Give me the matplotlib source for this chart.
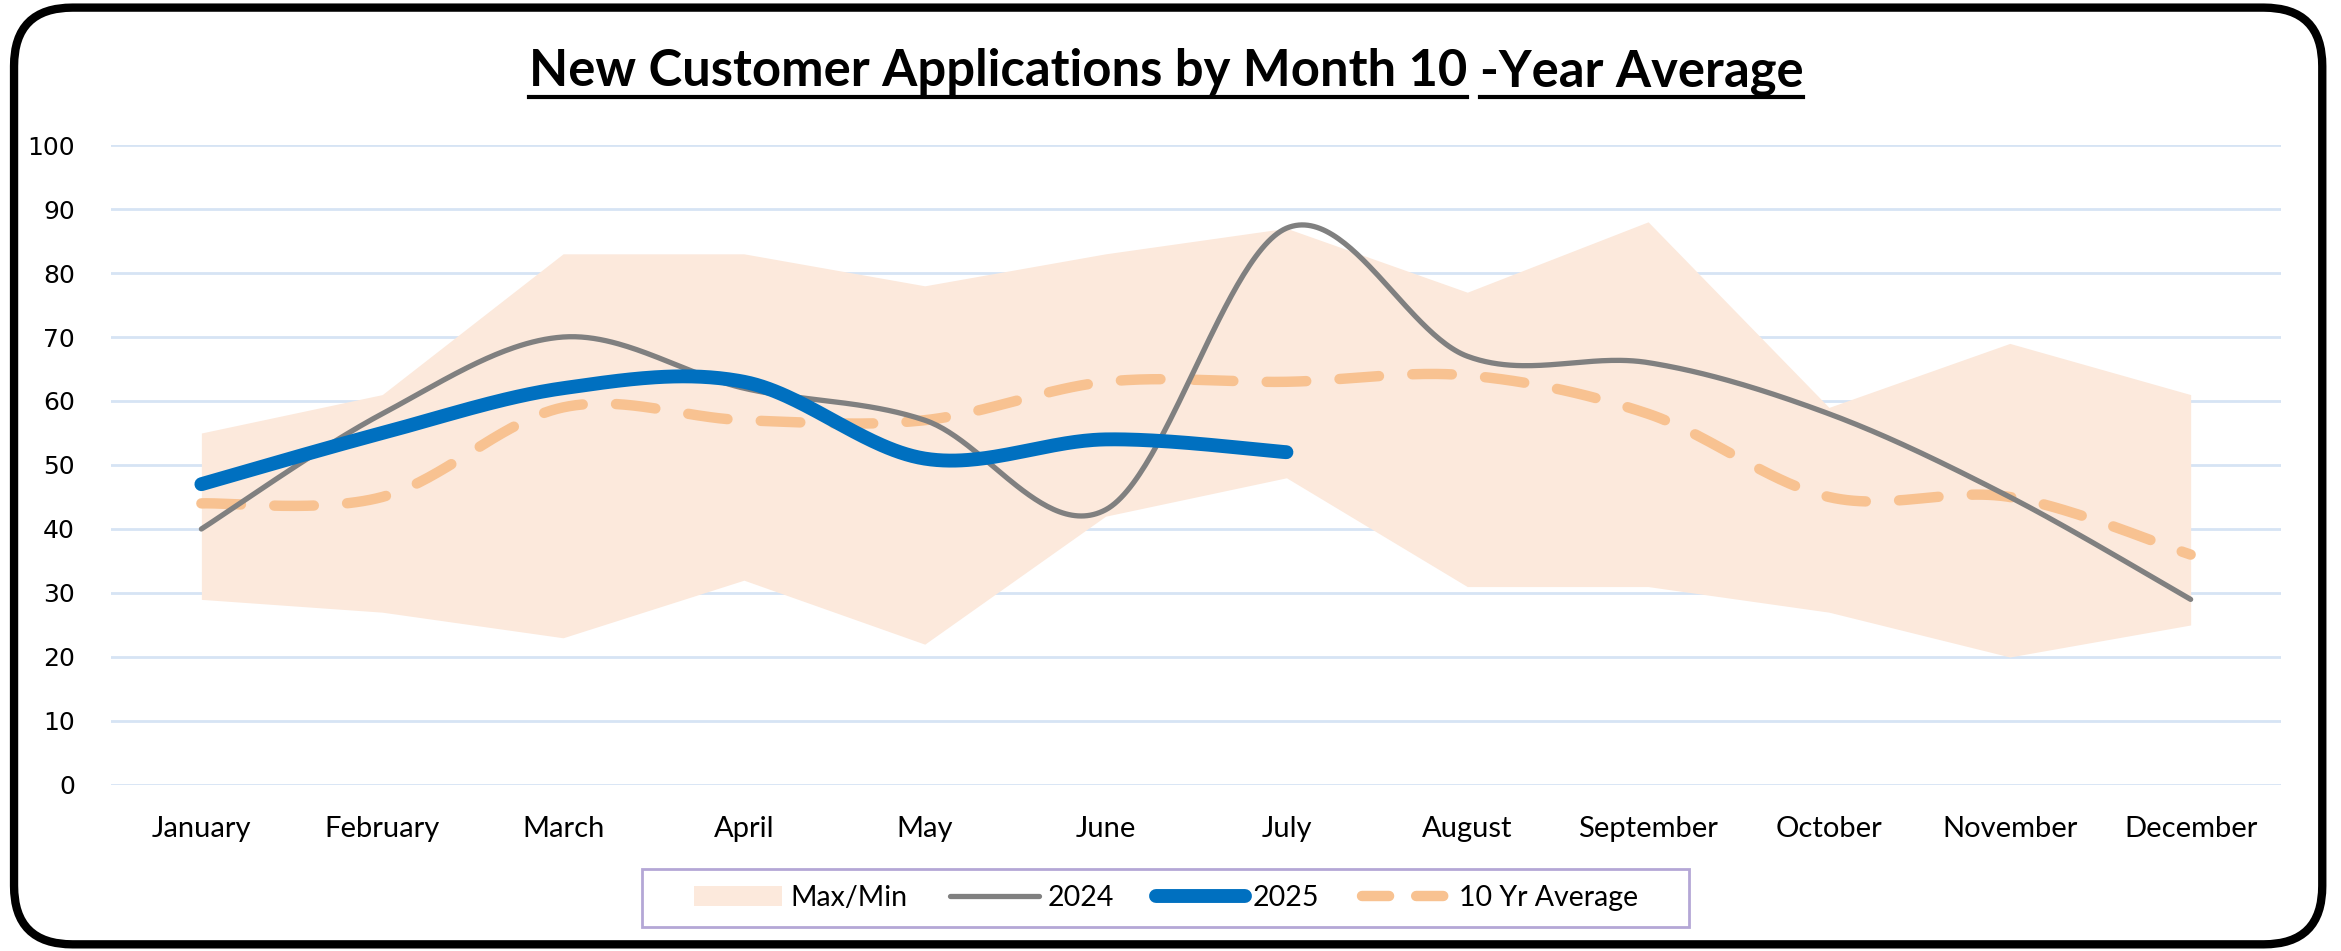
import matplotlib
matplotlib.use('Agg')
import matplotlib.pyplot as plt
import numpy as np
from matplotlib.patches import FancyBboxPatch, Patch, Rectangle
from matplotlib.lines import Line2D

months = ['January', 'February', 'March', 'April', 'May', 'June', 'July',
          'August', 'September', 'October', 'November', 'December']
band_max = [55, 61, 83, 83, 78, 83, 87, 77, 88, 59, 69, 61]
band_min = [29, 27, 23, 32, 22, 42, 48, 31, 31, 27, 20, 25]
y2024 = [40, 58, 70, 62, 57, 43, 87, 67, 66, 58, 45, 29]
y2025 = [47, 55, 62, 63, 51, 54, 52]
avg10 = [44, 45, 59, 57, 57, 63, 63, 64, 58, 45, 45, 36]
yticks = list(range(0, 101, 10))


# Excel-style smoothed line: cubic bezier segments with catmull-rom handles
def smooth(xs, ys, n=60):
    p = np.column_stack([xs, ys]).astype(float)
    pts = np.vstack([p[0], p, p[-1]])
    out = []
    t = np.linspace(0, 1, n)[:, None]
    for i in range(1, len(pts) - 2):
        p0, p1, p2, p3 = pts[i - 1], pts[i], pts[i + 1], pts[i + 2]
        c1 = p1 + (p2 - p0) / 6
        c2 = p2 - (p3 - p1) / 6
        seg = ((1 - t) ** 3) * p1 + 3 * ((1 - t) ** 2) * t * c1 + 3 * (1 - t) * t ** 2 * c2 + t ** 3 * p2
        out.append(seg if i == 1 else seg[1:])
    s = np.vstack(out)
    return s[:, 0], s[:, 1]


fig = plt.figure(figsize=(23.41, 9.51), dpi=100)
W, H = fig.bbox.width, fig.bbox.height
ax = fig.add_axes([0.0474, 0.1746, 0.927, 0.6729])

x = np.arange(len(months))
ax.fill_between(x, band_min, band_max, color='#FCE9DC', lw=0, zorder=1)
ax.plot(*smooth(x, y2024), color='#808080', lw=3.8, solid_capstyle='round', zorder=3)
ax.plot(*smooth(x[:len(y2025)], y2025), color='#0070C0', lw=10, solid_capstyle='round', zorder=4)
ax.plot(*smooth(x, avg10), color='#F8C291', lw=7.5, dash_capstyle='round',
        dashes=(3.8, 3.2), zorder=2)

ax.set_xlim(-0.5, 11.5)
ax.set_ylim(0, 100)
ax.set_xticks(x)
ax.set_xticklabels(months, fontsize=21, family='Lato')
ax.set_yticks(yticks)
ax.set_yticklabels([str(v) for v in yticks], fontsize=18, family='DejaVu Sans')
ax.tick_params(length=0, pad=26)
ax.tick_params(axis='x', pad=22)
ax.grid(axis='y', color='#D6E4F4', lw=2)
ax.set_axisbelow(True)
for sp in ax.spines.values():
    sp.set_visible(False)

# title in two underlined pieces
fig.canvas.draw()
r = fig.canvas.get_renderer()
pieces = ['New Customer Applications by Month 10', '-Year Average']
tkw = dict(fontsize=36.5, fontweight='bold', family='Lato', va='baseline', ha='left')
ty = 1 - 86 / 951
tmp = [fig.text(0, ty, s, **tkw) for s in pieces]
sp_w = fig.text(0, ty, 'a a', **tkw)
wa = fig.text(0, ty, 'aa', **tkw)
widths = [t.get_window_extent(r).width for t in tmp]
gap = sp_w.get_window_extent(r).width - wa.get_window_extent(r).width
for t in tmp + [sp_w, wa]:
    t.remove()
total = sum(widths) + gap
xs = 1166 - total / 2
for s, w in zip(pieces, widths):
    fig.text(xs / W, ty, s, **tkw)
    uy = ty - 11 / H
    fig.add_artist(Line2D([xs / W, (xs + w) / W], [uy, uy], color='black', lw=3))
    xs += w + gap

# legend, with its own box drawn separately
handles = [Patch(facecolor='#FCE9DC', edgecolor='none'),
           Line2D([], [], color='#808080', lw=3.8, solid_capstyle='round'),
           Line2D([], [], color='#0070C0', lw=10, solid_capstyle='round'),
           Line2D([], [], color='#F8C291', lw=7.5, dashes=(2.6, 2.6), dash_capstyle='round')]
fig.legend(handles, ['Max/Min', '2024', '2025', '10 Yr Average'], loc='center',
           bbox_to_anchor=(1166 / W, 1 - 898 / H), ncol=4,
           prop={'family': 'Lato', 'size': 20.5}, frameon=False,
           handlelength=3.1, handletextpad=0.3, columnspacing=1.5,
           borderpad=0, borderaxespad=0)
fig.add_artist(Rectangle((642 / W, 1 - 927 / H), (1689 - 642) / W, 58 / H,
                         transform=fig.transFigure, fill=False,
                         edgecolor='#B4A7D6', lw=2))

# rounded outer frame
fig.add_artist(FancyBboxPatch((0.006, 0.007), 0.986, 0.985,
                              boxstyle='round,pad=0,rounding_size=0.025',
                              transform=fig.transFigure, fill=False,
                              edgecolor='black', lw=6, mutation_aspect=2.46))

fig.savefig('out.png', dpi=100)
